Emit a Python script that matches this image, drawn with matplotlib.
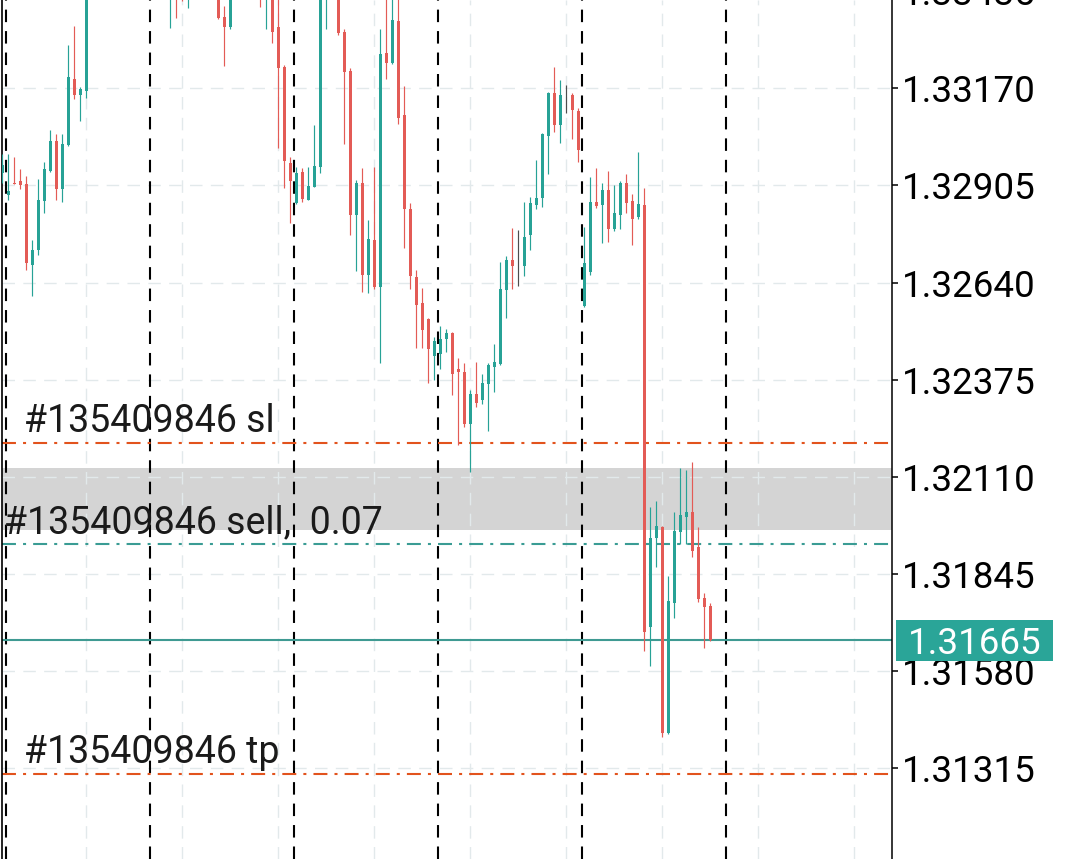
import matplotlib
matplotlib.use("Agg")
import matplotlib.pyplot as plt
from matplotlib.patches import Rectangle
from matplotlib.transforms import blended_transform_factory, offset_copy

plt.rcParams['font.family'] = ['Roboto', 'DejaVu Sans']

# H1 bars, oldest first.
# bars 15-35, 39-42 and 55 sit above the top edge, so those are rough guesses
opens = [1.32939, 1.32879, 1.32913, 1.32917, 1.32909, 1.32688, 1.32729, 1.32863, 1.32945, 1.33026,
         1.32895, 1.33015, 1.33195, 1.33152, 1.33163, 1.33480, 1.33530, 1.33570, 1.33545, 1.33510,
         1.33560, 1.33620, 1.33590, 1.33540, 1.33500, 1.33530, 1.33490, 1.33460, 1.33440, 1.33480,
         1.33430, 1.33420, 1.33470, 1.33500, 1.33480, 1.33450, 1.33470, 1.33365, 1.33337, 1.33440,
         1.33480, 1.33500, 1.33470, 1.33460, 1.33420, 1.33470, 1.33337, 1.33228, 1.32966, 1.32857,
         1.32942, 1.32865, 1.32901, 1.32955, 1.33425, 1.33470, 1.33460, 1.33324, 1.33217, 1.32824,
         1.32912, 1.32661, 1.32756, 1.32628, 1.33266, 1.33239, 1.33354, 1.33097, 1.32841, 1.32655,
         1.32584, 1.32541, 1.32440, 1.32445, 1.32486, 1.32503, 1.32404, 1.32396, 1.32254, 1.32336,
         1.32320, 1.32363, 1.32410, 1.32418, 1.32620, 1.32702, 1.32686, 1.32685, 1.32770, 1.32852,
         1.32871, 1.33040, 1.33157, 1.33070, 1.33155, 1.33152, 1.33108, 1.32576, 1.32669, 1.32860,
         1.32852, 1.32893, 1.32786, 1.32824, 1.32912, 1.32863, 1.32819, 1.32852, 1.31701, 1.31943,
         1.31973, 1.31411, 1.31766, 1.31960, 1.32001, 1.32014, 1.31919, 1.31780, 1.31758]
highs = [1.32991, 1.32991, 1.32983, 1.32950, 1.32931, 1.32756, 1.32923, 1.32969, 1.33056, 1.33045,
         1.33045, 1.33288, 1.33340, 1.33174, 1.33520, 1.33560, 1.33600, 1.33620, 1.33590, 1.33580,
         1.33650, 1.33660, 1.33610, 1.33570, 1.33550, 1.33560, 1.33520, 1.33490, 1.33510, 1.33500,
         1.33460, 1.33500, 1.33520, 1.33540, 1.33510, 1.33490, 1.33490, 1.33395, 1.33470, 1.33500,
         1.33530, 1.33540, 1.33500, 1.33480, 1.33500, 1.33490, 1.33420, 1.33234, 1.32983, 1.32955,
         1.32953, 1.32955, 1.33070, 1.33440, 1.33490, 1.33510, 1.33480, 1.33332, 1.33225, 1.32920,
         1.32953, 1.32811, 1.32955, 1.33332, 1.33415, 1.33420, 1.33420, 1.33176, 1.32857, 1.32674,
         1.32625, 1.32543, 1.32492, 1.32522, 1.32513, 1.32505, 1.32434, 1.32421, 1.32347, 1.32423,
         1.32391, 1.32421, 1.32473, 1.32696, 1.32713, 1.32789, 1.32784, 1.32860, 1.32874, 1.32975,
         1.33047, 1.33160, 1.33228, 1.33193, 1.33179, 1.33157, 1.33116, 1.32792, 1.32928, 1.32953,
         1.32912, 1.32945, 1.32906, 1.32917, 1.32936, 1.32882, 1.32996, 1.32898, 1.32028, 1.32044,
         1.31976, 1.31840, 1.32014, 1.32134, 1.32129, 1.32151, 1.31973, 1.31793, 1.31766]
lows = [1.32912, 1.32865, 1.32908, 1.32895, 1.32674, 1.32604, 1.32715, 1.32830, 1.32943, 1.32865,
        1.32860, 1.33013, 1.33141, 1.33081, 1.33144, 1.33450, 1.33500, 1.33520, 1.33490, 1.33470,
        1.33540, 1.33570, 1.33520, 1.33480, 1.33460, 1.33470, 1.33440, 1.33430, 1.33335, 1.33362,
        1.33408, 1.33389, 1.33440, 1.33460, 1.33430, 1.33420, 1.33360, 1.33231, 1.33332, 1.33420,
        1.33450, 1.33460, 1.33430, 1.33392, 1.33332, 1.33294, 1.33007, 1.32898, 1.32803, 1.32854,
        1.32860, 1.32864, 1.32900, 1.32939, 1.33332, 1.33430, 1.33316, 1.33018, 1.32770, 1.32672,
        1.32614, 1.32612, 1.32623, 1.32421, 1.33195, 1.33237, 1.33073, 1.32734, 1.32623, 1.32462,
        1.32462, 1.32366, 1.32374, 1.32404, 1.32451, 1.32333, 1.32197, 1.32246, 1.32123, 1.32301,
        1.32309, 1.32235, 1.32342, 1.32416, 1.32544, 1.32623, 1.32631, 1.32658, 1.32729, 1.32841,
        1.32846, 1.32936, 1.33051, 1.33021, 1.33103, 1.33032, 1.32969, 1.32574, 1.32661, 1.32844,
        1.32748, 1.32751, 1.32781, 1.32786, 1.32830, 1.32743, 1.32814, 1.31635, 1.31594, 1.31864,
        1.31400, 1.31408, 1.31725, 1.31927, 1.31927, 1.31891, 1.31769, 1.31643, 1.31663]
closes = [1.32961, 1.32890, 1.32909, 1.32906, 1.32694, 1.32729, 1.32865, 1.32950, 1.33026, 1.32895,
          1.33018, 1.33201, 1.33152, 1.33168, 1.33480, 1.33530, 1.33570, 1.33545, 1.33510, 1.33560,
          1.33620, 1.33590, 1.33540, 1.33500, 1.33530, 1.33490, 1.33460, 1.33440, 1.33480, 1.33430,
          1.33420, 1.33470, 1.33500, 1.33480, 1.33450, 1.33470, 1.33362, 1.33337, 1.33440, 1.33480,
          1.33500, 1.33470, 1.33460, 1.33420, 1.33470, 1.33324, 1.33225, 1.32972, 1.32917, 1.32939,
          1.32868, 1.32904, 1.32958, 1.33425, 1.33470, 1.33460, 1.33321, 1.33215, 1.32824, 1.32912,
          1.32661, 1.32759, 1.32628, 1.33264, 1.33239, 1.33356, 1.33089, 1.32841, 1.32658, 1.32579,
          1.32511, 1.32459, 1.32481, 1.32486, 1.32503, 1.32391, 1.32396, 1.32254, 1.32336, 1.32312,
          1.32366, 1.32415, 1.32423, 1.32623, 1.32702, 1.32685, 1.32686, 1.32764, 1.32857, 1.32871,
          1.33045, 1.33157, 1.33070, 1.33152, 1.33155, 1.33111, 1.33002, 1.32694, 1.32860, 1.32849,
          1.32893, 1.32786, 1.32830, 1.32912, 1.32857, 1.32814, 1.32854, 1.31687, 1.31943, 1.31976,
          1.31411, 1.31771, 1.31962, 1.32006, 1.32014, 1.31908, 1.31777, 1.31755, 1.31665]

price_ticks = [1.31315, 1.31580, 1.31845, 1.32110, 1.32375, 1.32640, 1.32905, 1.33170]
cut_tick = 1.33435          # half hidden above the top edge
day_breaks = [0.62, 24.62, 48.62, 72.62, 96.62, 120.62]   # in bar units
grid_bars = [14, 30, 46, 62, 78, 94, 110, 126, 142]

ticket = '#135409846'
sl_price = 1.32203
tp_price = 1.31299
entry_price = 1.31926
lots = '0.07'
bid = 1.31665
band_lo, band_hi = 1.31965, 1.32135

TEAL = '#27a296'
RED = '#e35b56'
DOJI = '#4d4d4d'
ORANGE = '#e2531d'
GRID = '#e2e9eb'
DASHDOT = (0, (6.7, 3.4, 1.45, 3.4))
FS = 27

fig = plt.figure(figsize=(10.8, 8.59), dpi=100)
ax = fig.add_axes([1.5 / 1080, 0, 890.5 / 1080, 1])
ax.set_xlim(-0.133, 148.28)
ax.set_ylim(1.310676, 1.334109)

# background stuff
ax.axhspan(band_lo, band_hi, color='#d4d4d4', lw=0, zorder=0.5)
for t in price_ticks:
    ax.axhline(t, color=GRID, lw=1.0, ls=(0, (9, 6)), zorder=1)
for g in grid_bars:
    ax.axvline(g - 0.05, color=GRID, lw=1.0, ls=(0, (9, 6)), zorder=1)
for d in day_breaks:
    ax.axvline(d, color='black', lw=1.5, ls=(0, (6, 4.3)), zorder=2)

# trade levels
ax.axhline(sl_price, color=ORANGE, lw=1.5, ls=DASHDOT, zorder=2.5)
ax.axhline(tp_price, color=ORANGE, lw=1.5, ls=DASHDOT, zorder=2.5)
ax.axhline(entry_price, color='#3a9c94', lw=1.5, ls=DASHDOT, zorder=2.5)
ax.axhline(bid, color='#3f9a92', lw=1.5, zorder=2.5)

# candles
xs = list(range(len(opens)))
cols = []
for o, c in zip(opens, closes):
    if c > o:
        cols.append(TEAL)
    elif c < o:
        cols.append(RED)
    else:
        cols.append(DOJI)
ax.vlines(xs, lows, highs, colors=cols, lw=0.85, zorder=3)
heights = [max(abs(c - o), 0.000012) for o, c in zip(opens, closes)]
bottoms = [min(o, c) - (0.000006 if c == o else 0) for o, c in zip(opens, closes)]
ax.bar(xs, heights, bottom=bottoms, width=0.55, color=cols, lw=0, zorder=3)

# order labels
tr = blended_transform_factory(ax.transAxes, ax.transData)
above = offset_copy(tr, fig=fig, y=8, units='points')
ax.text(0.0253, sl_price, ticket + ' sl', transform=above, fontsize=FS, color='#1a1a1a',
        va='baseline', ha='left', zorder=4)
ax.text(0.0028, entry_price, ticket + ' sell,  ' + lots, transform=above, fontsize=FS,
        color='#1a1a1a', va='baseline', ha='left', zorder=4)
ax.text(0.0253, tp_price, ticket + ' tp', transform=above, fontsize=FS, color='#1a1a1a',
        va='baseline', ha='left', zorder=4)

# right price scale
for s in ['top', 'bottom']:
    ax.spines[s].set_visible(False)
ax.spines['left'].set_linewidth(1.2)
ax.spines['right'].set_linewidth(1.1)
ax.yaxis.tick_right()
ax.set_yticks(price_ticks)
ax.set_yticklabels(['%.5f' % t for t in price_ticks])
ax.tick_params(axis='y', length=4.3, width=1.1, pad=3, labelsize=26.5, colors='black')
ax.tick_params(axis='x', bottom=False, labelbottom=False)
ax.text(1.01123, cut_tick, '%.5f' % cut_tick, transform=tr, fontsize=26.5, color='black',
        va='center_baseline', ha='left', clip_on=False)

# bid tag
box_h = 41 / 36658
ax.add_patch(Rectangle((1.0045, bid - box_h / 2), 0.1763, box_h, transform=tr,
                       facecolor='#2aa598', edgecolor='none', clip_on=False, zorder=5))
ax.text(1.0926, bid, '%.5f' % bid, transform=tr, fontsize=26.5, color='white',
        va='center_baseline', ha='center', clip_on=False, zorder=6)

fig.savefig('out.png', dpi=100)
